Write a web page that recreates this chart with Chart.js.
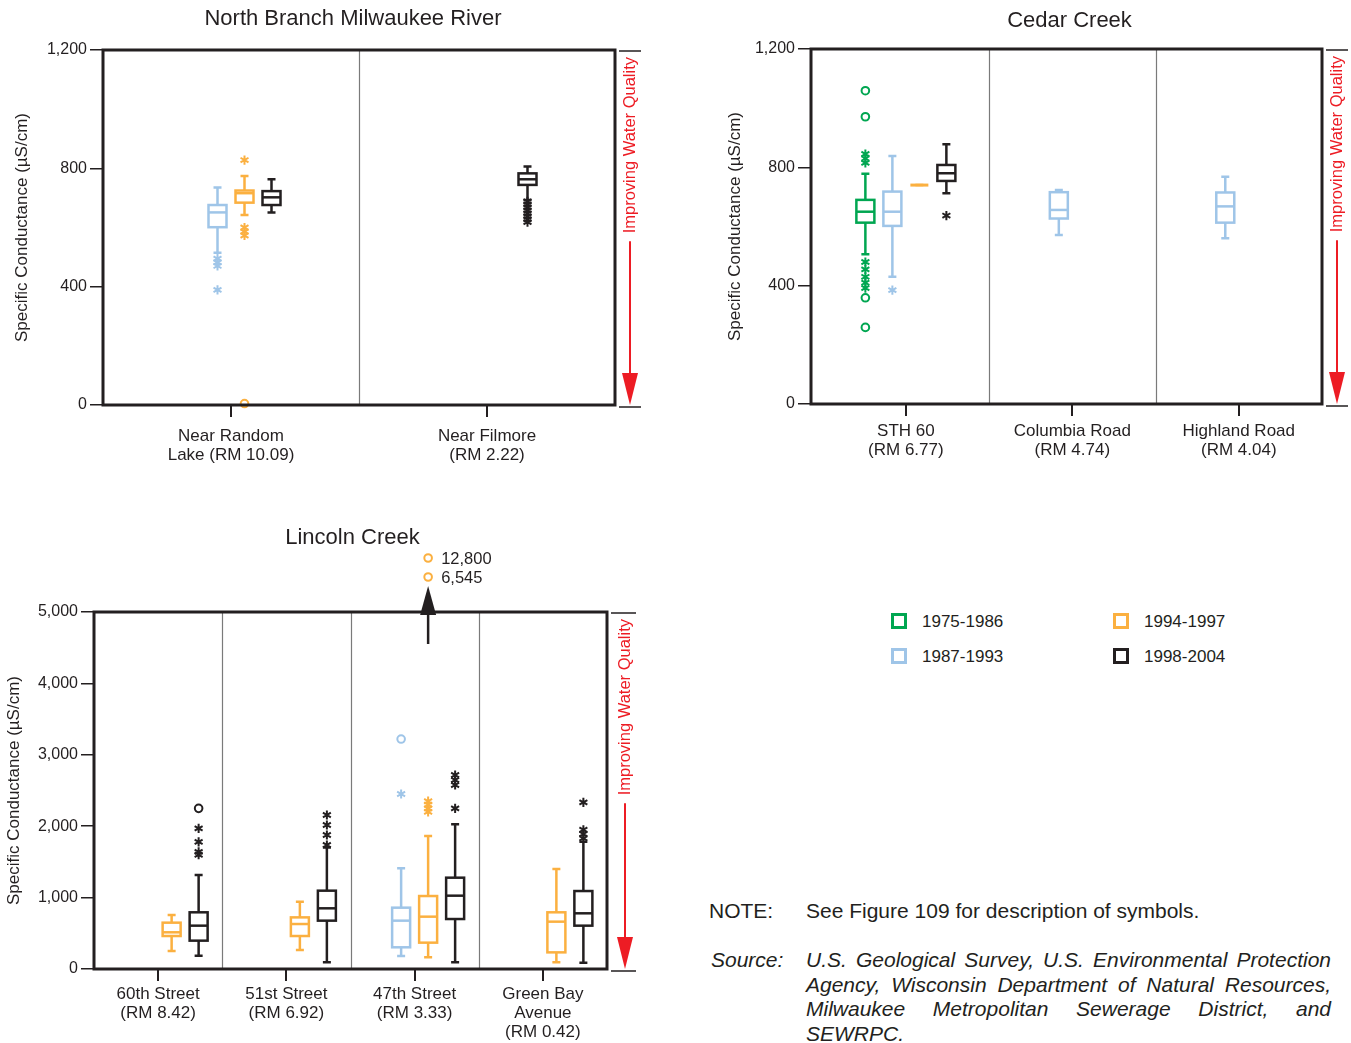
<!DOCTYPE html>
<html>
<head>
<meta charset="utf-8">
<script src="https://cdn.jsdelivr.net/npm/chart.js@4.4.0/dist/chart.umd.min.js"></script>
<style>
body { margin: 0; background: #fff; font-family: "Liberation Sans", Arial, sans-serif; color: #231f20; }
#page { position: relative; width: 1351px; height: 1043px; overflow: hidden; }
canvas { position: absolute; }
.leg { position: absolute; font-size: 17px; line-height: 16px; }
.leg i { position: absolute; left: -31px; top: -1px; width: 10px; height: 10px; border: 3px solid; }
.txt { position: absolute; font-size: 21px; line-height: 20px; white-space: nowrap; }
.just { position: absolute; left: 806px; width: 525px; font-size: 21px; line-height: 20px; font-style: italic; text-align: justify; text-align-last: justify; white-space: nowrap; }
</style>
</head>
<body>
<div id="page">
  <canvas id="nbChart" width="660" height="470" style="left:0;top:0"></canvas>
  <canvas id="ccChart" width="646" height="470" style="left:705px;top:0"></canvas>
  <canvas id="lcChart" width="660" height="543" style="left:0;top:500px"></canvas>

  <div class="leg" style="left:922px;top:614px"><i style="border-color:#00a651"></i>1975-1986</div>
  <div class="leg" style="left:922px;top:649px"><i style="border-color:#9fc5e8"></i>1987-1993</div>
  <div class="leg" style="left:1144px;top:614px"><i style="border-color:#fbb040"></i>1994-1997</div>
  <div class="leg" style="left:1144px;top:649px"><i style="border-color:#231f20"></i>1998-2004</div>

  <div class="txt" style="left:709px;top:901px">NOTE:</div>
  <div class="txt" style="left:806px;top:901px">See Figure 109 for description of symbols.</div>
  <div class="txt" style="left:711px;top:950px;font-style:italic">Source:</div>
  <div class="just" style="top:950px">U.S. Geological Survey, U.S. Environmental Protection</div>
  <div class="just" style="top:974.5px">Agency, Wisconsin Department of Natural Resources,</div>
  <div class="just" style="top:999px">Milwaukee Metropolitan Sewerage District, and</div>
  <div class="just" style="top:1023.5px;text-align-last:left">SEWRPC.</div>
</div>

<script>
// Periods (legend) and colours
const periods = ['1975-1986', '1987-1993', '1994-1997', '1998-2004'];
const periodColors = ['#00a651', '#9fc5e8', '#fbb040', '#231f20'];

// Box stats per site: [low whisker, q1, median, q3, high whisker], null = no data

// North Branch Milwaukee River
const nbSites = [['Near Random', 'Lake (RM 10.09)'], ['Near Filmore', '(RM 2.22)']];
const nbBox87 = [[515, 601, 651, 676, 735], null];
const nbBox94 = [[642, 684, 716, 725, 774], null];
const nbBox98 = [[651, 676, 702, 723, 763], [693, 744, 763, 783, 806]];
const nbStars87 = [[495, 482, 470, 389], []];
const nbStars94 = [[828, 600, 586, 573], []];
const nbCircles94 = [[5], []];
const nbStars98 = [[], [688, 678, 668, 658, 648, 638, 628, 618]];
const nbTicks = [0, 400, 800, 1200];

// Cedar Creek
const ccSites = [['STH 60', '(RM 6.77)'], ['Columbia Road', '(RM 4.74)'], ['Highland Road', '(RM 4.04)']];
const ccBox75 = [[506, 613, 650, 690, 778], null, null];
const ccBox87 = [[430, 602, 650, 718, 838], [571, 627, 656, 716, 723], [560, 613, 668, 715, 768]];
const ccBox94 = [[740, 740, 740, 740, 740], null, null];
const ccBox98 = [[712, 754, 780, 808, 878], null, null];
const ccStars75 = [[845, 830, 815, 480, 455, 430, 410, 392], [], []];
const ccCircles75 = [[1059, 971, 359, 259], [], []];
const ccStars87 = [[385], [], []];
const ccStars98 = [[637], [], []];
const ccTicks = [0, 400, 800, 1200];

// Lincoln Creek
const lcSites = [['60th Street', '(RM 8.42)'], ['51st Street', '(RM 6.92)'], ['47th Street', '(RM 3.33)'], ['Green Bay', 'Avenue', '(RM 0.42)']];
const lcBox87 = [null, null, [182, 304, 677, 859, 1410], null];
const lcBox94 = [[252, 462, 514, 649, 756], [266, 462, 630, 723, 943], [163, 369, 733, 1022, 1863], [93, 233, 663, 794, 1400]];
const lcBox98 = [[187, 397, 607, 794, 1317], [93, 677, 850, 1097, 1700], [93, 700, 1027, 1279, 2026], [88, 607, 780, 1092, 1783]];
const lcStars87 = [[], [], [2451], []];
const lcCircles87 = [[], [], [3221], []];
const lcStars94 = [[], [], [2350, 2300, 2250, 2200], []];
const lcOffscale94 = [[], [], [12800, 6545], []];
const lcStars98 = [[1970, 1780, 1640, 1600], [2157, 2017, 1877, 1737], [2717, 2647, 2577, 2250], [2334, 1950, 1890, 1830]];
const lcCircles98 = [[2250], [], [], []];
const lcTicks = [0, 1000, 2000, 3000, 4000, 5000];

const INK = '#231f20';
const RED = '#ed1c24';
const FONT = '"Liberation Sans", Arial, sans-serif';
const SLOT = 27, BOX_W = 18, CAP_W = 8;

function drawStar(ctx, x, y, r) {
    ctx.beginPath();
    for (let k = 0; k < 3; k++) {
        const a = k * Math.PI / 3;
        ctx.moveTo(x + r * Math.sin(a), y - r * Math.cos(a));
        ctx.lineTo(x - r * Math.sin(a), y + r * Math.cos(a));
    }
    ctx.stroke();
}

function drawCircle(ctx, x, y) {
    ctx.beginPath();
    ctx.arc(x, y, 3.8, 0, Math.PI * 2);
    ctx.stroke();
}

function boxPlugin(cfg) {
    return {
        id: 'boxPlot',
        afterDatasetsDraw(chart) {
            const { ctx, chartArea: a, scales: { x, y } } = chart;
            ctx.save();

            // site dividers
            ctx.strokeStyle = '#7a7a7a';
            ctx.lineWidth = 1.2;
            for (let i = 1; i < cfg.sites.length; i++) {
                const px = Math.round(x.getPixelForValue(i)) + 0.5;
                ctx.beginPath();
                ctx.moveTo(px, a.top);
                ctx.lineTo(px, a.bottom);
                ctx.stroke();
            }

            // boxes
            cfg.series.forEach(s => {
                const color = periodColors[s.period];
                ctx.strokeStyle = color;
                ctx.fillStyle = color;
                cfg.sites.forEach((_, i) => {
                    const cx = x.getPixelForValue(i + 0.5) + (s.period - 1.5) * SLOT;
                    const b = s.box && s.box[i];
                    if (b) {
                        const [lo, q1, med, q3, hi] = b.map(v => y.getPixelForValue(v));
                        ctx.lineWidth = 2.5;
                        ctx.beginPath();
                        ctx.moveTo(cx, hi); ctx.lineTo(cx, q3);
                        ctx.moveTo(cx, q1); ctx.lineTo(cx, lo);
                        ctx.moveTo(cx - CAP_W / 2, hi); ctx.lineTo(cx + CAP_W / 2, hi);
                        ctx.moveTo(cx - CAP_W / 2, lo); ctx.lineTo(cx + CAP_W / 2, lo);
                        ctx.stroke();
                        if (q1 - q3 < 1) {
                            ctx.lineWidth = 3;
                            ctx.beginPath();
                            ctx.moveTo(cx - BOX_W / 2, med); ctx.lineTo(cx + BOX_W / 2, med);
                            ctx.stroke();
                        } else {
                            ctx.fillStyle = '#fff';
                            ctx.fillRect(cx - BOX_W / 2, q3, BOX_W, q1 - q3);
                            ctx.strokeRect(cx - BOX_W / 2, q3, BOX_W, q1 - q3);
                            ctx.beginPath();
                            ctx.moveTo(cx - BOX_W / 2, med); ctx.lineTo(cx + BOX_W / 2, med);
                            ctx.stroke();
                        }
                    }
                    ctx.lineWidth = 2;
                    ((s.stars && s.stars[i]) || []).forEach(v => drawStar(ctx, cx, y.getPixelForValue(v), 4.6));
                    ((s.circles && s.circles[i]) || []).forEach(v => drawCircle(ctx, cx, y.getPixelForValue(v)));

                    // values off the top of the scale
                    const off = (s.offscale && s.offscale[i]) || [];
                    if (off.length) {
                        ctx.fillStyle = INK;
                        ctx.strokeStyle = INK;
                        ctx.lineWidth = 2.5;
                        ctx.beginPath();
                        ctx.moveTo(cx, a.top + 32);
                        ctx.lineTo(cx, a.top - 2);
                        ctx.stroke();
                        ctx.beginPath();
                        ctx.moveTo(cx, a.top - 26);
                        ctx.lineTo(cx - 8, a.top + 3);
                        ctx.lineTo(cx + 8, a.top + 3);
                        ctx.closePath();
                        ctx.fill();
                        ctx.font = '16.5px ' + FONT;
                        ctx.textAlign = 'left';
                        ctx.textBaseline = 'middle';
                        off.forEach((v, k) => {
                            const py = a.top - 54 + k * 19;
                            ctx.strokeStyle = color;
                            ctx.lineWidth = 2;
                            drawCircle(ctx, cx, py);
                            ctx.fillText(v.toLocaleString('en-US'), cx + 13, py + 1);
                        });
                        ctx.strokeStyle = color;
                    }
                });
            });

            // frame
            ctx.strokeStyle = INK;
            ctx.lineWidth = 3;
            ctx.strokeRect(a.left, a.top, a.right - a.left, a.bottom - a.top);

            // "Improving Water Quality" arrow
            const ax = a.right + cfg.arrowGap;
            ctx.lineWidth = 1.5;
            ctx.beginPath();
            ctx.moveTo(a.right + 4, a.top + 1); ctx.lineTo(ax + 11, a.top + 1);
            ctx.moveTo(a.right + 4, a.bottom + 2); ctx.lineTo(ax + 11, a.bottom + 2);
            ctx.stroke();
            ctx.fillStyle = RED;
            ctx.strokeStyle = RED;
            ctx.font = '16.5px ' + FONT;
            const label = 'Improving Water Quality';
            const tw = ctx.measureText(label).width;
            ctx.save();
            ctx.translate(ax, a.top + 7);
            ctx.rotate(-Math.PI / 2);
            ctx.textAlign = 'right';
            ctx.textBaseline = 'middle';
            ctx.fillText(label, 0, 0);
            ctx.restore();
            ctx.lineWidth = 2;
            ctx.beginPath();
            ctx.moveTo(ax, a.top + 7 + tw + 8);
            ctx.lineTo(ax, a.bottom - 28);
            ctx.stroke();
            ctx.beginPath();
            ctx.moveTo(ax, a.bottom);
            ctx.lineTo(ax - 8, a.bottom - 32);
            ctx.lineTo(ax + 8, a.bottom - 32);
            ctx.closePath();
            ctx.fill();

            // title
            ctx.fillStyle = INK;
            ctx.font = '22px ' + FONT;
            ctx.textAlign = 'center';
            ctx.textBaseline = 'middle';
            ctx.fillText(cfg.title, (a.left + a.right) / 2 + cfg.titleDx, a.top + cfg.titleDy);
            ctx.restore();
        }
    };
}

function makeChart(id, cfg) {
    return new Chart(document.getElementById(id), {
        type: 'scatter',
        data: { datasets: [] },
        options: {
            responsive: false,
            animation: false,
            layout: { padding: { top: cfg.padTop, right: cfg.padRight, left: 0, bottom: 0 } },
            plugins: { legend: { display: false }, tooltip: { enabled: false } },
            scales: {
                x: {
                    type: 'linear',
                    min: cfg.xMin,
                    max: cfg.sites.length,
                    afterFit: s => { s.height = cfg.xHeight; },
                    afterBuildTicks: s => { s.ticks = cfg.sites.map((_, i) => ({ value: i + 0.5 })); },
                    grid: { drawOnChartArea: false, tickLength: 12, color: INK, lineWidth: 2 },
                    border: { display: false },
                    ticks: {
                        autoSkip: false, maxRotation: 0, minRotation: 0, padding: cfg.tickPad,
                        color: INK, font: { family: FONT, size: 17, lineHeight: 1.12 },
                        callback: (v, i) => cfg.sites[i]
                    }
                },
                y: {
                    type: 'linear',
                    min: 0,
                    max: cfg.yTicks[cfg.yTicks.length - 1],
                    afterFit: s => { s.width = cfg.yWidth; },
                    afterBuildTicks: s => { s.ticks = cfg.yTicks.map(v => ({ value: v })); },
                    grid: { drawOnChartArea: false, tickLength: 13, color: INK, lineWidth: 1.5 },
                    border: { display: false },
                    title: {
                        display: true, text: 'Specific Conductance (\u00b5S/cm)', color: INK,
                        font: { family: FONT, size: 17 }, padding: { top: cfg.yTitlePad, bottom: 0 }
                    },
                    ticks: {
                        padding: 3, color: INK, font: { family: FONT, size: 16 },
                        callback: v => v.toLocaleString('en-US')
                    }
                }
            }
        },
        plugins: [boxPlugin(cfg)]
    });
}

makeChart('nbChart', {
    title: 'North Branch Milwaukee River', titleDx: -6, titleDy: -31,
    sites: nbSites, yTicks: nbTicks, xMin: 0, tickPad: 10,
    padTop: 50, padRight: 45, yWidth: 103, xHeight: 65, yTitlePad: 12, arrowGap: 15,
    series: [
        { period: 1, box: nbBox87, stars: nbStars87 },
        { period: 2, box: nbBox94, stars: nbStars94, circles: nbCircles94 },
        { period: 3, box: nbBox98, stars: nbStars98 }
    ]
});

makeChart('ccChart', {
    title: 'Cedar Creek', titleDx: 3, titleDy: -28,
    sites: ccSites, yTicks: ccTicks, xMin: -0.07, tickPad: 6,
    padTop: 49, padRight: 29, yWidth: 106, xHeight: 66, yTitlePad: 20, arrowGap: 15,
    series: [
        { period: 0, box: ccBox75, stars: ccStars75, circles: ccCircles75 },
        { period: 1, box: ccBox87, stars: ccStars87 },
        { period: 2, box: ccBox94 },
        { period: 3, box: ccBox98, stars: ccStars98 }
    ]
});

makeChart('lcChart', {
    title: 'Lincoln Creek', titleDx: 2, titleDy: -74,
    sites: lcSites, yTicks: lcTicks, xMin: 0, tickPad: 4,
    padTop: 112, padRight: 53, yWidth: 94, xHeight: 74, yTitlePad: 4, arrowGap: 18,
    series: [
        { period: 1, box: lcBox87, stars: lcStars87, circles: lcCircles87 },
        { period: 2, box: lcBox94, stars: lcStars94, offscale: lcOffscale94 },
        { period: 3, box: lcBox98, stars: lcStars98, circles: lcCircles98 }
    ]
});
</script>
</body>
</html>
